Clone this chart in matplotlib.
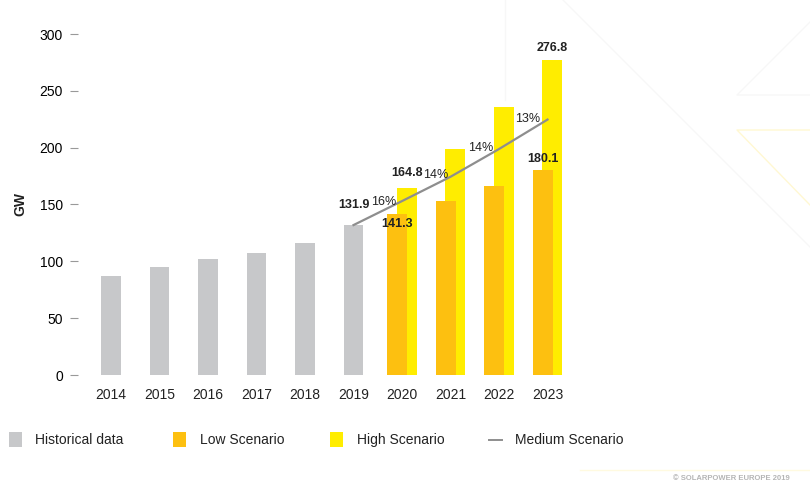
import matplotlib
matplotlib.use("Agg")
import matplotlib.pyplot as plt
from matplotlib.lines import Line2D
from matplotlib.patches import Rectangle

plt.rcParams['font.family'] = ['Liberation Sans', 'DejaVu Sans']

years = ['2014', '2015', '2016', '2017', '2018', '2019', '2020', '2021', '2022', '2023']
historical = [87.1, 95.3, 101.8, 107.6, 116.0, 131.9]
low_scenario = [141.3, 153.0, 166.0, 180.1]
high_scenario = [164.8, 199.0, 235.4, 276.8]
medium_scenario = [131.9, 153.0, 174.4, 198.8, 224.7]
growth_labels = ['16%', '14%', '14%', '13%']
yticks = [0, 50, 100, 150, 200, 250, 300]

GRAY = '#c7c8ca'
ORANGE = '#fdc010'
YELLOW = '#ffed00'
LINE = '#8e8e8e'
TXT = '#222222'

W, H = 810, 486
fig = plt.figure(figsize=(8.1, 4.86), dpi=100)

# faint background decorations
def fline(xs, ys, color, lw=1.0):
    fig.add_artist(Line2D([x / W for x in xs], [1 - y / H for y in ys],
                          transform=fig.transFigure, color=color, lw=lw, zorder=0))

fline([563, 810], [0, 247], '#f7f7f7')
fline([810, 737, 810], [22, 95, 95], '#f7f7f7')
fline([810, 737, 810], [130, 130, 205], '#fff8d2')
fline([505, 505], [0, 100], '#f7f7f7')
fline([580, 810], [470, 470], '#fffae0')

left_px, right_px = 85, 580
top_px, bot_px = 34, 375
ax = fig.add_axes([left_px / W, 1 - bot_px / H, (right_px - left_px) / W, (bot_px - top_px) / H])
ax.set_facecolor('none')

x_all = list(range(len(years)))
x_hist = x_all[:len(historical)]
x_fut = x_all[len(historical):]
bw = 0.41
off = 0.1

ax.bar(x_hist, historical, width=bw, color=GRAY, zorder=2)
ax.bar([x + off for x in x_fut], high_scenario, width=bw, color=YELLOW, zorder=2)
ax.bar([x - off for x in x_fut], low_scenario, width=bw, color=ORANGE, zorder=3)
x_med = [x_hist[-1]] + x_fut
ax.plot(x_med, medium_scenario, color=LINE, lw=1.6, zorder=4)

# value labels
lab_kw = dict(ha='center', va='center', fontsize=9, fontweight='bold', color=TXT, zorder=5, clip_on=False)
ax.text(x_hist[-1], historical[-1] + 18, f'{historical[-1]:.1f}', **lab_kw)
ax.text(x_fut[0] + 0.1, high_scenario[0] + 12.5, f'{high_scenario[0]:.1f}', **lab_kw)
ax.text(x_fut[0] - 0.1, low_scenario[0] - 8.5, f'{low_scenario[0]:.1f}', **lab_kw)
ax.text(x_fut[-1] + 0.1, high_scenario[-1] + 11.2, f'{high_scenario[-1]:.1f}', **lab_kw)
ax.text(x_fut[-1] - 0.1, low_scenario[-1] + 10.3, f'{low_scenario[-1]:.1f}', **lab_kw)

# growth labels along medium line
g_dx = [0.13, 0.2, 0.13, 0.1]
g_dy = [9.7, 12.2, 13.0, 13.5]
for i, lab in enumerate(growth_labels):
    xm = (x_med[i] + x_med[i + 1]) / 2 + g_dx[i]
    ym = (medium_scenario[i] + medium_scenario[i + 1]) / 2 + g_dy[i]
    ax.text(xm, ym, lab, ha='center', va='center', fontsize=9, color=TXT, zorder=5)

ax.set_xlim(-0.536, 9.67)
ax.set_ylim(0, 300)
ax.set_xticks(x_all)
ax.set_xticklabels(years, fontsize=10, color=TXT)
ax.set_yticks(yticks)
ax.set_yticklabels([str(t) for t in yticks], fontsize=10, color=TXT)
ax.tick_params(axis='x', length=0, pad=9)
ax.tick_params(axis='y', length=5.5, width=0.8, color='#999999', pad=5.3)
for s in ['top', 'right', 'bottom']:
    ax.spines[s].set_visible(False)
ax.spines['left'].set_position(('outward', 5))
ax.spines['left'].set_visible(False)
ax.set_ylabel('GW', fontsize=10, fontweight='bold', color=TXT, labelpad=9)

# legend (manual)
def patch(x0, color):
    fig.add_artist(Rectangle((x0 / W, 1 - 447 / H), 13 / W, 15 / H, transform=fig.transFigure,
                             facecolor=color, edgecolor='none'))

def ltext(x0, s):
    fig.text(x0 / W, 1 - 440 / H, s, fontsize=10, color=TXT, ha='left', va='center')

patch(9, GRAY); ltext(35, 'Historical data')
patch(173, ORANGE); ltext(200, 'Low Scenario')
patch(330, YELLOW); ltext(357, 'High Scenario')
fline([489, 502], [440, 440], LINE, lw=1.4)
ltext(515, 'Medium Scenario')

fig.text(790 / W, 1 - 478 / H, '© SOLARPOWER EUROPE 2019', fontsize=5.5, color='#b5b5b5',
         ha='right', va='center', fontweight='bold')

fig.savefig('out.png', dpi=100)
